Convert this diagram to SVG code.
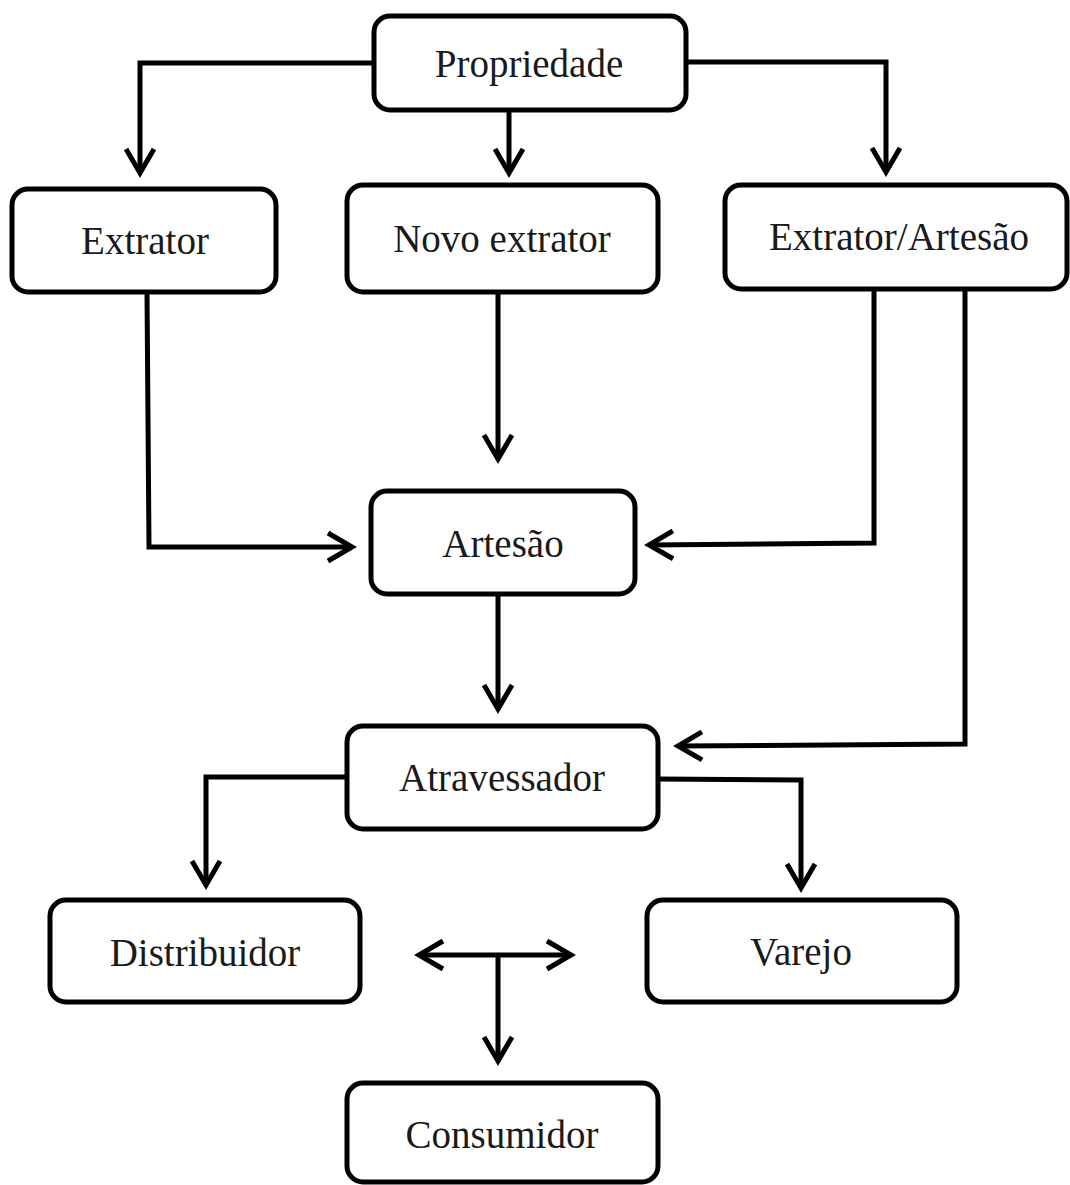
<svg xmlns="http://www.w3.org/2000/svg" width="1070" height="1185" viewBox="0 0 1070 1185">
<style>
.box{fill:#fff;stroke:#000;stroke-width:5}
.lbl{font-family:"Liberation Serif","Times New Roman",serif;font-size:39px;fill:#1a1a1a;text-anchor:middle}
.con{fill:none;stroke:#000;stroke-width:5;stroke-linejoin:miter}
</style>
<defs>
<marker id="ah" markerUnits="userSpaceOnUse" markerWidth="60" markerHeight="60" refX="0" refY="0" viewBox="-30 -30 60 60" orient="auto-start-reverse" overflow="visible">
<path d="M -24 -14 L 0 0 L -24 14" fill="none" stroke="#000" stroke-width="5" stroke-linejoin="miter"/>
</marker>
</defs>
<rect width="1070" height="1185" fill="#fff"/>
<g id="connectors">
<path class="con" d="M 374 63 L 140 63 L 140 173" marker-end="url(#ah)"/>
<path class="con" d="M 509 110 L 509 173" marker-end="url(#ah)"/>
<path class="con" d="M 686 62 L 886 62 L 886 172" marker-end="url(#ah)"/>
<path class="con" d="M 147 292 L 149 547 L 352 547" marker-end="url(#ah)"/>
<path class="con" d="M 498 292 L 498 459" marker-end="url(#ah)"/>
<path class="con" d="M 874 289 L 874 543 L 649 545" marker-end="url(#ah)"/>
<path class="con" d="M 965 289 L 965 744 L 678 746" marker-end="url(#ah)"/>
<path class="con" d="M 498 594 L 498 709" marker-end="url(#ah)"/>
<path class="con" d="M 347 777 L 206 777 L 206 885" marker-end="url(#ah)"/>
<path class="con" d="M 658 779 L 801 780 L 801 888" marker-end="url(#ah)"/>
<path class="con" d="M 419 955 L 571 955" marker-start="url(#ah)" marker-end="url(#ah)"/>
<path class="con" d="M 498 955 L 498 1061" marker-end="url(#ah)"/>
</g>
<g id="propriedade"><rect class="box" x="374" y="16" width="312" height="94" rx="16"/><text class="lbl" x="529" y="77">Propriedade</text></g>
<g id="extrator"><rect class="box" x="12" y="189" width="264" height="103" rx="16"/><text class="lbl" x="145" y="254">Extrator</text></g>
<g id="novo-extrator"><rect class="box" x="347" y="185" width="311" height="107" rx="16"/><text class="lbl" x="502" y="252">Novo extrator</text></g>
<g id="extrator-artesao"><rect class="box" x="725" y="185" width="342" height="104" rx="16"/><text class="lbl" x="899" y="250">Extrator/Artesão</text></g>
<g id="artesao"><rect class="box" x="371" y="491" width="264" height="103" rx="16"/><text class="lbl" x="503" y="557">Artesão</text></g>
<g id="atravessador"><rect class="box" x="347" y="726" width="311" height="103" rx="16"/><text class="lbl" x="502" y="791">Atravessador</text></g>
<g id="distribuidor"><rect class="box" x="50" y="900" width="310" height="102" rx="16"/><text class="lbl" x="205" y="966">Distribuidor</text></g>
<g id="varejo"><rect class="box" x="647" y="900" width="310" height="102" rx="16"/><text class="lbl" x="801" y="965">Varejo</text></g>
<g id="consumidor"><rect class="box" x="347" y="1083" width="311" height="99" rx="16"/><text class="lbl" x="502" y="1148">Consumidor</text></g>
</svg>
